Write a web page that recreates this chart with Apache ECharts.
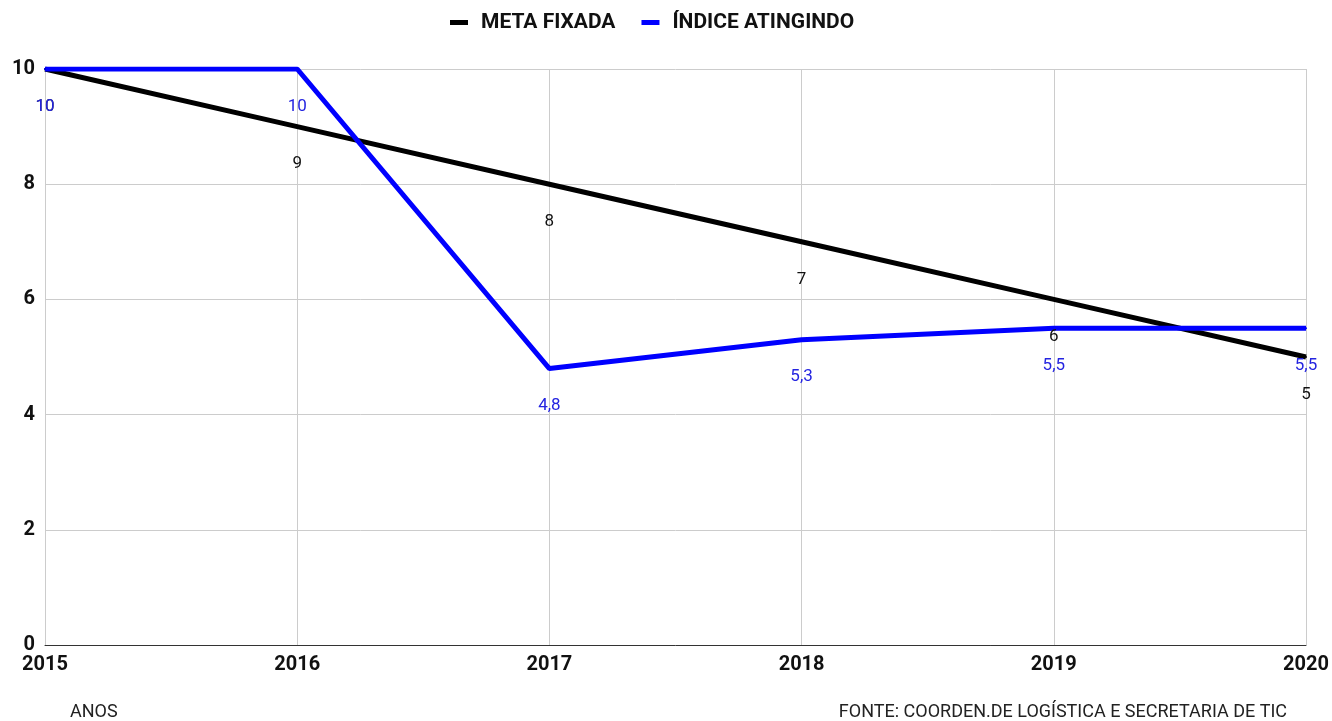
<!DOCTYPE html>
<html>
<head>
    <meta charset="utf-8" />
    <title>Meta x Índice</title>
    <style>
        body { margin: 0; background: #fff; }
        #container { width: 1332px; height: 721px; }
    </style>
</head>
<body>
<div id="container"></div>
<script src="https://cdn.jsdelivr.net/npm/echarts@6/dist/echarts.min.js"></script>
<script type="text/javascript">
    var anos = ['2015', '2016', '2017', '2018', '2019', '2020'];
    var metaFixada = [10, 9, 8, 7, 6, 5];
    var indiceAtingido = [10, 10, 4.8, 5.3, 5.5, 5.5];
    var yTicks = [0, 2, 4, 6, 8, 10];

    function virgula(p) {
        return String(p.value).replace('.', ',');
    }

    var chart = echarts.init(document.getElementById('container'));

    chart.setOption({
        textStyle: { fontFamily: 'Roboto' },
        legend: {
            top: 7,
            left: 445,
            itemWidth: 18,
            itemHeight: 5,
            itemGap: 26,
            icon: 'rect',
            textStyle: { fontSize: 21, fontWeight: 'bold', color: '#111', padding: [0, 0, 0, 8] },
            data: ['META FIXADA', 'ÍNDICE ATINGINDO']
        },
        grid: { left: 45, right: 26, top: 69, bottom: 76, containLabel: false },
        graphic: [
            { type: 'text', left: 70, top: 703, style: { text: 'ANOS', fontSize: 18, fill: '#222', fontFamily: 'Roboto' } },
            { type: 'text', right: 45, top: 703, style: { text: 'FONTE: COORDEN.DE LOGÍSTICA E SECRETARIA DE TIC', fontSize: 18, fill: '#222', fontFamily: 'Roboto' } }
        ],
        xAxis: {
            type: 'category',
            boundaryGap: false,
            data: anos,
            axisLine: { lineStyle: { color: '#333', width: 1 } },
            axisTick: { show: false },
            axisLabel: { fontSize: 20, fontWeight: 'bold', color: '#111', margin: 10 },
            splitLine: { show: true, lineStyle: { color: '#ccc' } }
        },
        yAxis: {
            type: 'value',
            min: yTicks[0],
            max: yTicks[yTicks.length - 1],
            interval: 2,
            axisLine: { show: false },
            axisTick: { show: false },
            axisLabel: { fontSize: 20, fontWeight: 'bold', color: '#111', margin: 10 },
            splitLine: { lineStyle: { color: '#ccc' } }
        },
        series: [{
            name: 'META FIXADA',
            type: 'line',
            data: metaFixada,
            color: '#000',
            symbol: 'circle',
            symbolSize: 2,
            showSymbol: true,
            itemStyle: { color: '#000' },
            lineStyle: { width: 5, color: '#000' },
            label: { show: true, position: 'bottom', distance: 28, fontSize: 17, color: '#111', formatter: virgula }
        }, {
            name: 'ÍNDICE ATINGINDO',
            type: 'line',
            data: indiceAtingido,
            color: '#0000ff',
            symbol: 'circle',
            symbolSize: 2,
            showSymbol: true,
            itemStyle: { color: '#0000ff' },
            lineStyle: { width: 5, color: '#0000ff' },
            label: { show: true, position: 'bottom', distance: 28, fontSize: 17, color: '#2424e0', formatter: virgula }
        }]
    });
</script>
</body>
</html>
